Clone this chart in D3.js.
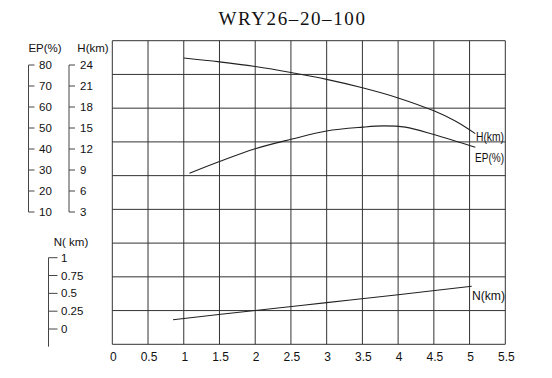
<!DOCTYPE html>
<html><head><meta charset="utf-8">
<script src="https://cdn.jsdelivr.net/npm/d3@7"></script>
<style>
html,body{margin:0;padding:0;background:#fff;}
svg{display:block;}
text{font-family:"Liberation Sans",Arial,sans-serif;fill:#111;}
</style></head>
<body>
<svg id="c" width="552" height="378"></svg>
<script>
const title = "WRY26–20–100";
const xTicks = [0,0.5,1,1.5,2,2.5,3,3.5,4,4.5,5,5.5];
const epTicks = [80,70,60,50,40,30,20,10];
const hTicks = [24,21,18,15,12,9,6,3];
const nTicks = [1,0.75,0.5,0.25,0];
const nTickLabels = ["1","0.75","0.5","0.25","0"];
const gridRows = [0,1,2,3,4,5,6,7,8,9];

const hFlow = [1,1.5,2,2.5,3,3.5,4,4.5,4.8,5.08];
const hVals = [25.0,24.45,23.78,22.93,21.95,20.75,19.3,17.45,16.0,14.2];
const epFlow = [1.08,1.5,2,2.5,3,3.5,3.8,4.1,4.5,5.08];
const epVals = [28.4,34.0,40.1,44.6,48.6,50.4,51.0,50.4,46.9,40.8];
const nFlow = [0.85,2,3,4,5.03];
const nVals = [0.13,0.26,0.37,0.48,0.60];

const svg = d3.select("#c");
const x = d3.scaleLinear().domain([0,5.5]).range([112.3,505.3]);
const gy = d3.scaleLinear().domain([0,9]).range([344.3,40.7]);
const yH = d3.scaleLinear().domain([3,24]).range([212,65]);
const yEP = d3.scaleLinear().domain([10,80]).range([212,65]);
const yN = d3.scaleLinear().domain([0,1]).range([329,257.7]);

// title
svg.append("text").attr("x",292.5).attr("y",25).attr("text-anchor","middle")
  .style("font-family","'Liberation Serif','Times New Roman',serif").style("font-size","19px")
  .style("letter-spacing","1.6px").text(title);

// grid
const g = svg.append("g").attr("stroke","#333").attr("stroke-width",1);
g.selectAll("line.v").data(xTicks).join("line").attr("class","v")
  .attr("x1",d=>x(d)).attr("x2",d=>x(d)).attr("y1",gy(9)).attr("y2",gy(0));
g.selectAll("line.h").data(gridRows).join("line").attr("class","h")
  .attr("x1",x(0)).attr("x2",x(5.5)).attr("y1",d=>gy(d)).attr("y2",d=>gy(d));

// x labels
svg.append("g").selectAll("text").data(xTicks).join("text")
  .attr("x",d=>x(d)+1).attr("y",361).attr("text-anchor","middle")
  .style("font-size","12px").text(d=>d3.format("")(d));

// left bracket axes
function bracketAxis(scale, ticks, labels, axX, tickLen, labX, top, bottom){
  const a = svg.append("g");
  a.append("line").attr("x1",axX).attr("x2",axX).attr("y1",top).attr("y2",bottom)
    .attr("stroke","#444");
  a.selectAll("line.t").data(ticks).join("line").attr("class","t")
    .attr("x1",axX).attr("x2",axX+tickLen).attr("y1",d=>scale(d)).attr("y2",d=>scale(d))
    .attr("stroke","#444");
  a.selectAll("text").data(ticks).join("text")
    .attr("x",labX).attr("y",d=>scale(d)+4).style("font-size","11.5px")
    .text((d,i)=>labels[i]);
}
bracketAxis(yEP, epTicks, epTicks.map(String), 28.5, 6, 39, yEP(80), yEP(10));
bracketAxis(yH, hTicks, hTicks.map(String), 69, 6, 80, yH(24), yH(3));
bracketAxis(yN, nTicks, nTickLabels, 48.5, 9, 61, yN(1), 346.7);

svg.append("text").attr("x",45).attr("y",52).attr("text-anchor","middle").style("font-size","11.5px").text("EP(%)");
svg.append("text").attr("x",93).attr("y",52).attr("text-anchor","middle").style("font-size","11.5px").text("H(km)");
svg.append("text").attr("x",71).attr("y",246).attr("text-anchor","middle").style("font-size","11.5px").text("N( km)");

// curves
const line = (xs, ys, sc) => d3.line().curve(d3.curveCatmullRom.alpha(0.5))
  .x((d,i)=>x(xs[i])).y((d,i)=>sc(ys[i]))(xs);
svg.append("path").attr("d",line(hFlow,hVals,yH)).attr("fill","none").attr("stroke","#222").attr("stroke-width",1.1);
svg.append("path").attr("d",line(epFlow,epVals,yEP)).attr("fill","none").attr("stroke","#222").attr("stroke-width",1.1);
svg.append("path").attr("d",line(nFlow,nVals,yN)).attr("fill","none").attr("stroke","#222").attr("stroke-width",1.1);

// curve labels
svg.append("text").attr("x",476).attr("y",141).attr("textLength",28).attr("lengthAdjust","spacingAndGlyphs")
  .style("font-size","12px").text("H(km)");
svg.append("text").attr("x",475).attr("y",162).attr("textLength",29).attr("lengthAdjust","spacingAndGlyphs")
  .style("font-size","12px").text("EP(%)");
svg.append("text").attr("x",472).attr("y",300).attr("textLength",33).attr("lengthAdjust","spacingAndGlyphs")
  .style("font-size","12.5px").text("N(km)");
</script>
</body></html>
